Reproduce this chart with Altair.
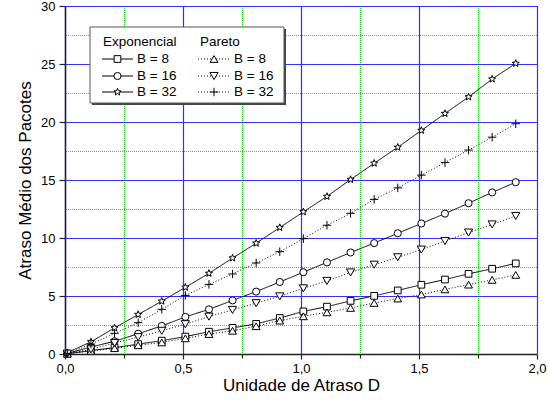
import math
import altair as alt
import pandas as pd

# Delay unit D (x) for every series
D = [0.01, 0.11, 0.21, 0.31, 0.41, 0.51, 0.61, 0.71, 0.81, 0.91,
     1.01, 1.11, 1.21, 1.31, 1.41, 1.51, 1.61, 1.71, 1.81, 1.91]

# Mean packet delay per buffer size and traffic model
exp_b8 = [0.02, 0.3, 0.55, 0.85, 1.15, 1.5, 1.92, 2.25, 2.6, 3.1,
          3.67, 4.08, 4.58, 5.01, 5.48, 5.97, 6.42, 6.91, 7.35, 7.81]
exp_b16 = [0.05, 0.6, 1.1, 1.75, 2.42, 3.2, 3.85, 4.62, 5.38, 6.21,
           7.05, 7.9, 8.75, 9.56, 10.41, 11.25, 12.1, 13.0, 13.93, 14.81]
exp_b32 = [0.12, 1.05, 2.25, 3.4, 4.55, 5.75, 6.95, 8.27, 9.55, 10.9,
           12.25, 13.58, 15.04, 16.44, 17.82, 19.27, 20.73, 22.16, 23.7, 25.05]
par_b8 = [0.02, 0.25, 0.5, 0.75, 1.0, 1.35, 1.72, 2.0, 2.4, 2.88,
          3.25, 3.59, 3.97, 4.4, 4.78, 5.13, 5.57, 5.98, 6.39, 6.82]
par_b16 = [0.03, 0.4, 0.95, 1.45, 2.0, 2.57, 3.22, 3.8, 4.38, 4.97,
           5.66, 6.3, 7.03, 7.7, 8.34, 9.0, 9.74, 10.47, 11.17, 11.9]
par_b32 = [0.05, 0.85, 1.78, 2.7, 3.85, 5.05, 6.0, 6.9, 7.85, 8.82,
           9.94, 11.1, 12.13, 13.33, 14.32, 15.42, 16.5, 17.58, 18.69, 19.85]

# Tick positions
x_major_ticks = [0.0, 0.5, 1.0, 1.5, 2.0]
x_minor_ticks = [0.25, 0.75, 1.25, 1.75]
y_major_ticks = [0, 5, 10, 15, 20, 25, 30]
y_minor_ticks = [2.5, 7.5, 12.5, 17.5, 22.5, 27.5]

families = ["Exponencial", "Pareto"]
buffers = ["B = 8", "B = 16", "B = 32"]
series_values = {
    ("Exponencial", "B = 8"): exp_b8,
    ("Exponencial", "B = 16"): exp_b16,
    ("Exponencial", "B = 32"): exp_b32,
    ("Pareto", "B = 8"): par_b8,
    ("Pareto", "B = 16"): par_b16,
    ("Pareto", "B = 32"): par_b32,
}

rows = []
for (fam, buf), vals in series_values.items():
    for d, v in zip(D, vals):
        rows.append({"D": d, "atraso": v, "familia": fam, "serie": f"{fam} {buf}"})
df = pd.DataFrame(rows)

series_order = [f"{f} {b}" for f in families for b in buffers]

# Marker shapes: open square/circle/star for Exponencial, triangles/plus for Pareto
star_pts = []
for i in range(10):
    r = 1.0 if i % 2 == 0 else 0.42
    a = -math.pi / 2 + i * math.pi / 5
    star_pts.append(f"{r * math.cos(a):.3f},{r * math.sin(a):.3f}")
star_path = "M" + "L".join(star_pts) + "Z"
plus_path = "M-1,0L1,0M0,-1L0,1"

shape_scale = alt.Scale(
    domain=series_order,
    range=["square", "circle", star_path, "triangle-up", "triangle-down", plus_path],
)
size_scale = alt.Scale(domain=series_order, range=[45, 72, 120, 75, 75, 60])
dash_scale = alt.Scale(domain=families, range=[[1, 0], [1, 2]])

FONT = "Liberation Sans"
# plot area origin on the page and its size (multiples of the grid step keep lines crisp)
ORIGIN_X, ORIGIN_Y = 65, 6
PLOT_W, PLOT_H = 472, 348
X_MAX, Y_MAX = 2.0, 30.0

MAJOR_GRID = "#2f2fff"
MINOR_GRID = "#00f000"

x_all = sorted(x_major_ticks + x_minor_ticks)
y_all = sorted(y_major_ticks + y_minor_ticks)
x_major_test = "abs(datum.value * 2 - round(datum.value * 2)) < 1e-6"
y_major_test = "datum.value % 5 === 0"

x_axis = alt.Axis(
    values=x_all,
    title="Unidade de Atraso D",
    labelExpr=f"({x_major_test}) ? replace(format(datum.value, '.1f'), '.', ',') : ''",
    labelFlush=False,
    grid=False,
    zindex=1,
    tickSize={"condition": {"test": x_major_test, "value": 5}, "value": 4},
    tickColor="#222",
    domainColor="#222",
    domainWidth=1.5,
    tickWidth=1.2,
    labelFont=FONT, labelFontSize=13, labelColor="black", labelPadding=3,
    titleFont=FONT, titleFontSize=17, titleFontWeight="normal", titleColor="black",
    titlePadding=2,
)
y_axis = alt.Axis(
    values=y_all,
    title="Atraso Médio dos Pacotes",
    labelExpr=f"({y_major_test}) ? format(datum.value, 'd') : ''",
    labelFlush=False,
    grid=False,
    zindex=1,
    tickSize={"condition": {"test": y_major_test, "value": 6}, "value": 4},
    tickColor="#222",
    domainColor="#222",
    domainWidth=1.5,
    tickWidth=1.2,
    labelFont=FONT, labelFontSize=13, labelColor="black", labelPadding=4,
    titleFont=FONT, titleFontSize=17, titleFontWeight="normal", titleColor="black",
    titlePadding=6,
)

x_enc = alt.X("D:Q", scale=alt.Scale(domain=[0, X_MAX], nice=False, zero=False), axis=x_axis)
y_enc = alt.Y("atraso:Q", scale=alt.Scale(domain=[0, Y_MAX], nice=False), axis=y_axis)

base = alt.Chart(df)

# Series lines: solid for Exponencial, dotted for Pareto (this layer also carries the axes)
lines = base.mark_line(color="black", strokeWidth=1).encode(
    x=x_enc,
    y=y_enc,
    detail="serie:N",
    strokeDash=alt.StrokeDash("familia:N", scale=dash_scale, legend=None),
)

points = base.mark_point(filled=True, fill="white", stroke="black", strokeWidth=1, opacity=1).encode(
    x="D:Q",
    y="atraso:Q",
    shape=alt.Shape("serie:N", scale=shape_scale, legend=None),
    size=alt.Size("serie:N", scale=size_scale, legend=None),
)

# Grid: green dotted minor lines, blue solid major lines
grid_minor_x = alt.Chart(pd.DataFrame({"D": x_minor_ticks})).mark_rule(
    color=MINOR_GRID, strokeWidth=1, strokeDash=[1, 1], xOffset=0.5
).encode(x="D:Q")
grid_minor_y = alt.Chart(pd.DataFrame({"atraso": y_minor_ticks})).mark_rule(
    color=MINOR_GRID, strokeWidth=1, strokeDash=[1, 1], yOffset=0.5
).encode(y="atraso:Q")
grid_major_x = alt.Chart(pd.DataFrame({"D": x_major_ticks})).mark_rule(
    color=MAJOR_GRID, strokeWidth=1.2, xOffset=0.5
).encode(x="D:Q")
grid_major_y = alt.Chart(pd.DataFrame({"atraso": y_major_ticks})).mark_rule(
    color=MAJOR_GRID, strokeWidth=1.2, yOffset=0.5
).encode(y="atraso:Q")


# Legend box: laid out in page pixels, converted to data units of the plot
def dx(px):
    return (px - ORIGIN_X) / PLOT_W * X_MAX


def dy(py):
    return Y_MAX * (1 - (py - ORIGIN_Y) / PLOT_H)


box = pd.DataFrame([{"D": dx(90), "D2": dx(284), "atraso": dy(27), "atraso2": dy(103)}])
shadow = pd.DataFrame([{"D": dx(92), "D2": dx(286), "atraso": dy(29), "atraso2": dy(105)}])

legend_shadow = alt.Chart(shadow).mark_rect(fill="#444").encode(
    x="D:Q", x2="D2:Q", y="atraso:Q", y2="atraso2:Q")
legend_box = alt.Chart(box).mark_rect(fill="white", stroke="#555", strokeWidth=1).encode(
    x="D:Q", x2="D2:Q", y="atraso:Q", y2="atraso2:Q")

head_y = 42
row_y = [59, 76, 92]
col = {"Exponencial": {"l0": 102, "l1": 133, "sym": 117.5, "txt": 137, "head": 103},
       "Pareto": {"l0": 198, "l1": 230, "sym": 214, "txt": 234, "head": 200}}

leg_lines, leg_syms, leg_txt = [], [], []
for fam in families:
    c = col[fam]
    leg_txt.append({"D": dx(c["head"]), "atraso": dy(head_y), "label": fam})
    for i, buf in enumerate(buffers):
        yy = dy(row_y[i])
        leg_lines.append({"D": dx(c["l0"]), "D2": dx(c["l1"]), "atraso": yy, "familia": fam})
        leg_syms.append({"D": dx(c["sym"]), "atraso": yy, "serie": f"{fam} {buf}"})
        leg_txt.append({"D": dx(c["txt"]), "atraso": yy, "label": buf})

legend_lines = alt.Chart(pd.DataFrame(leg_lines)).mark_rule(color="black", strokeWidth=1).encode(
    x="D:Q", x2="D2:Q", y="atraso:Q",
    strokeDash=alt.StrokeDash("familia:N", scale=dash_scale, legend=None),
)
legend_syms = alt.Chart(pd.DataFrame(leg_syms)).mark_point(
    filled=True, fill="white", stroke="black", strokeWidth=1, opacity=1
).encode(
    x="D:Q", y="atraso:Q",
    shape=alt.Shape("serie:N", scale=shape_scale, legend=None),
    size=alt.Size("serie:N", scale=size_scale, legend=None),
)
legend_text = alt.Chart(pd.DataFrame(leg_txt)).mark_text(
    align="left", baseline="middle", font=FONT, fontSize=13.5, color="black"
).encode(x="D:Q", y="atraso:Q", text="label:N")

# The axis-carrying line layer goes first (hidden under the grid), then the visible stack
axes_carrier = lines.mark_line(opacity=0)

chart = alt.layer(
    axes_carrier, grid_minor_x, grid_minor_y, grid_major_x, grid_major_y, lines, points,
    legend_shadow, legend_box, legend_lines, legend_syms, legend_text
).properties(
    width=PLOT_W,
    height=PLOT_H,
    autosize=alt.AutoSizeParams(type="none"),
    padding={"left": ORIGIN_X, "top": ORIGIN_Y,
             "right": 548 - ORIGIN_X - PLOT_W, "bottom": 408 - ORIGIN_Y - PLOT_H},
    background="white",
).configure_view(stroke=None)

chart.save("out.html", embed_options={"renderer": "svg", "actions": False})
